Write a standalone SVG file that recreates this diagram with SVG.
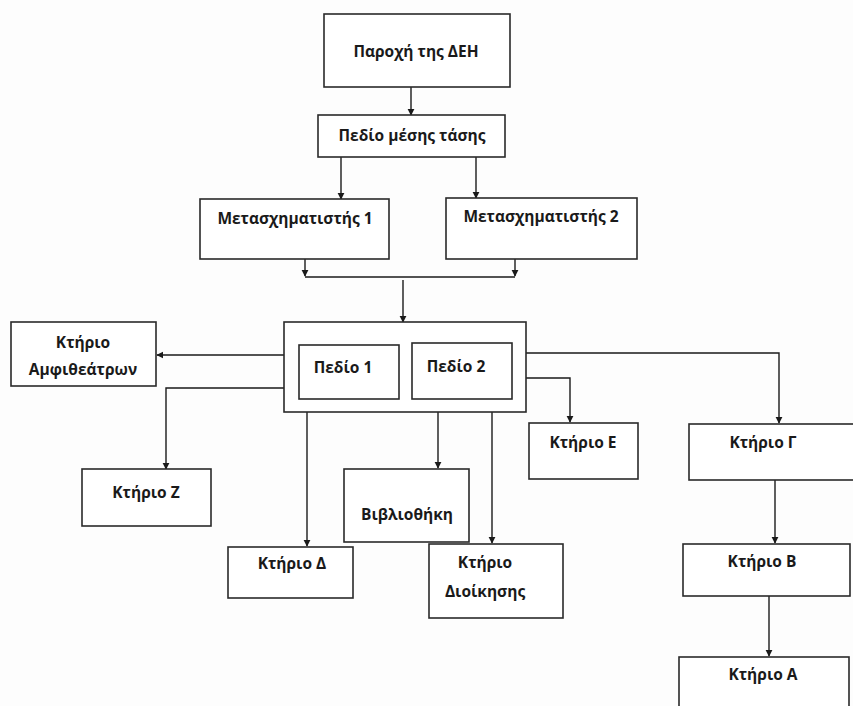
<svg xmlns="http://www.w3.org/2000/svg" width="853" height="706" viewBox="0 0 853 706">
<style>
.b{fill:#fff;stroke:#2a2a2a;stroke-width:1.6}
.t{font-family:"Open Sans","Liberation Sans",sans-serif;font-weight:bold;font-size:15.5px;fill:#1a1a1a;text-anchor:middle}
.c{fill:none;stroke:#1a1a1a;stroke-width:1.4}
</style>
<defs>
<marker id="a" viewBox="0 0 10 10" refX="9" refY="5" markerWidth="7" markerHeight="9" orient="auto" markerUnits="userSpaceOnUse">
<path d="M0,0L10,5L0,10z" fill="#1a1a1a"/>
</marker>
</defs>
<rect width="853" height="706" fill="#fdfdfd"/>
<g id="connectors">
<path class="c" d="M411,87V115" marker-end="url(#a)"/>
<path class="c" d="M341,157V199" marker-end="url(#a)"/>
<path class="c" d="M476,157V198" marker-end="url(#a)"/>
<path class="c" d="M305,259V276" marker-end="url(#a)"/>
<path class="c" d="M515,259V276" marker-end="url(#a)"/>
<path class="c" d="M305,277H515"/>
<path class="c" d="M403,280V322" marker-end="url(#a)"/>
<path class="c" d="M299,355H157" marker-end="url(#a)"/>
<path class="c" d="M299,388H166V469" marker-end="url(#a)"/>
<path class="c" d="M307,399V546" marker-end="url(#a)"/>
<path class="c" d="M438,399V468" marker-end="url(#a)"/>
<path class="c" d="M492,399V543" marker-end="url(#a)"/>
<path class="c" d="M512,378H570V422" marker-end="url(#a)"/>
<path class="c" d="M512,353H779V423" marker-end="url(#a)"/>
<path class="c" d="M775,480V543" marker-end="url(#a)"/>
<path class="c" d="M769,596V656" marker-end="url(#a)"/>
</g>
<g id="n_deh"><rect class="b" x="324" y="14" width="186" height="73"/><text class="t" x="416" y="57">Παροχή της ΔΕΗ</text></g>
<g id="n_mt"><rect class="b" x="318" y="115" width="187" height="42"/><text class="t" x="412" y="141">Πεδίο μέσης τάσης</text></g>
<g id="n_m1"><rect class="b" x="200" y="199" width="189" height="60"/><text class="t" x="295" y="224">Μετασχηματιστής 1</text></g>
<g id="n_m2"><rect class="b" x="446" y="198" width="191" height="61"/><text class="t" x="541" y="222">Μετασχηματιστής 2</text></g>
<g id="n_outer"><rect class="b" x="284" y="322" width="242" height="90"/></g>
<g id="n_p1"><rect class="b" x="299" y="345" width="100" height="54"/><text class="t" x="343" y="373">Πεδίο 1</text></g>
<g id="n_p2"><rect class="b" x="412" y="343" width="100" height="56"/><text class="t" x="456" y="372">Πεδίο 2</text></g>
<g id="n_amf"><rect class="b" x="11" y="322" width="145" height="64"/><text class="t" x="83" y="348">Κτήριο</text><text class="t" x="83" y="375">Αμφιθεάτρων</text></g>
<g id="n_z"><rect class="b" x="82" y="469" width="129" height="57"/><text class="t" x="146" y="498">Κτήριο Ζ</text></g>
<g id="n_d"><rect class="b" x="228" y="547" width="125" height="51"/><text class="t" x="292" y="569">Κτήριο  Δ</text></g>
<g id="n_lib"><rect class="b" x="344" y="469" width="125" height="73"/><text class="t" x="407" y="520">Βιβλιοθήκη</text></g>
<g id="n_dioik"><rect class="b" x="429" y="544" width="134" height="74"/><text class="t" x="485" y="568">Κτήριο</text><text class="t" x="485" y="597">Διοίκησης</text></g>
<g id="n_e"><rect class="b" x="529" y="423" width="109" height="56"/><text class="t" x="583" y="448">Κτήριο  Ε</text></g>
<g id="n_g"><rect class="b" x="689" y="424" width="170" height="56"/><text class="t" x="763" y="448">Κτήριο Γ</text></g>
<g id="n_b"><rect class="b" x="683" y="544" width="167" height="52"/><text class="t" x="762" y="567">Κτήριο  Β</text></g>
<g id="n_a"><rect class="b" x="679" y="657" width="170" height="60"/><text class="t" x="763" y="680">Κτήριο  Α</text></g>
</svg>
